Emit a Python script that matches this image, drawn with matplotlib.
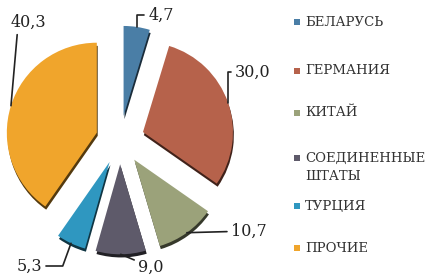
import matplotlib.pyplot as plt
import numpy as np
from matplotlib.colors import to_rgb

countries = ['БЕЛАРУСЬ', 'ГЕРМАНИЯ', 'КИТАЙ', 'СОЕДИНЕННЫЕ\nШТАТЫ', 'ТУРЦИЯ', 'ПРОЧИЕ']
shares = [4.7, 30.0, 10.7, 9.0, 5.3, 40.3]
colors = ['#4a7ea6', '#b6624b', '#9ba27a', '#5e5a6a', '#2f97c0', '#f0a52c']

# label text positions in pixels from top-left, and connector style
label_pos = [(161, 15), (253, 72), (249, 231), (151, 267), (29, 266), (28, 22)]
label_conn = ['angle,angleA=0,angleB=90', 'angle,angleA=0,angleB=90', 'arc3',
              'arc3', 'angle,angleA=0,angleB=70', 'angle,angleA=0,angleB=85']
legend_y = [22, 71, 113, 158, 206, 248]

W, H = 431, 276
CX, CY, SCALE = 120, 140, 90  # pie centre in pixels, pixels per unit


def px(x, y):
    return (x - CX) / SCALE, (CY - y) / SCALE


fig = plt.figure(figsize=(W / 100, H / 100), dpi=100)
ax = fig.add_axes([0, 0, 1, 1])

explode = [0.27] * len(shares)
dark = [tuple(c * 0.35 for c in to_rgb(col)) for col in colors]

# thin dark "thickness" under each slice
ax.pie(shares, explode=explode, colors=dark, startangle=90, counterclock=False,
       radius=1.0, center=(0.01, -0.035), wedgeprops=dict(linewidth=0))
wedges, _ = ax.pie(shares, explode=explode, colors=colors, startangle=90,
                   counterclock=False, radius=1.0, center=(0, 0),
                   wedgeprops=dict(linewidth=0))

ax.set_aspect('auto')
ax.set_xlim(-CX / SCALE, (W - CX) / SCALE)
ax.set_ylim(-(H - CY) / SCALE, CY / SCALE)
ax.axis('off')

for w, val, pos, conn in zip(wedges, shares, label_pos, label_conn):
    mid = np.deg2rad((w.theta1 + w.theta2) / 2)
    cx, cy = w.center
    ax_pt = (cx + np.cos(mid), cy + np.sin(mid))
    ax.annotate(f'{val:.1f}'.replace('.', ','), xy=ax_pt, xytext=px(*pos),
                ha='center', va='center', fontsize=11.5, family='DejaVu Serif',
                color='#222222',
                arrowprops=dict(arrowstyle='-', color='#222222', lw=1.2,
                                connectionstyle=conn, shrinkA=1, shrinkB=0))

# legend
for name, col, y in zip(countries, colors, legend_y):
    ax.scatter(*px(297, y), marker='s', s=14, color=col, linewidths=0)
    lines = name.split('\n')
    for i, line in enumerate(lines):
        ax.text(*px(305, y + i * 19), line, ha='left', va='center',
                fontsize=9.5, family='DejaVu Serif', color='#333333')

fig.savefig('out.png', dpi=100)
